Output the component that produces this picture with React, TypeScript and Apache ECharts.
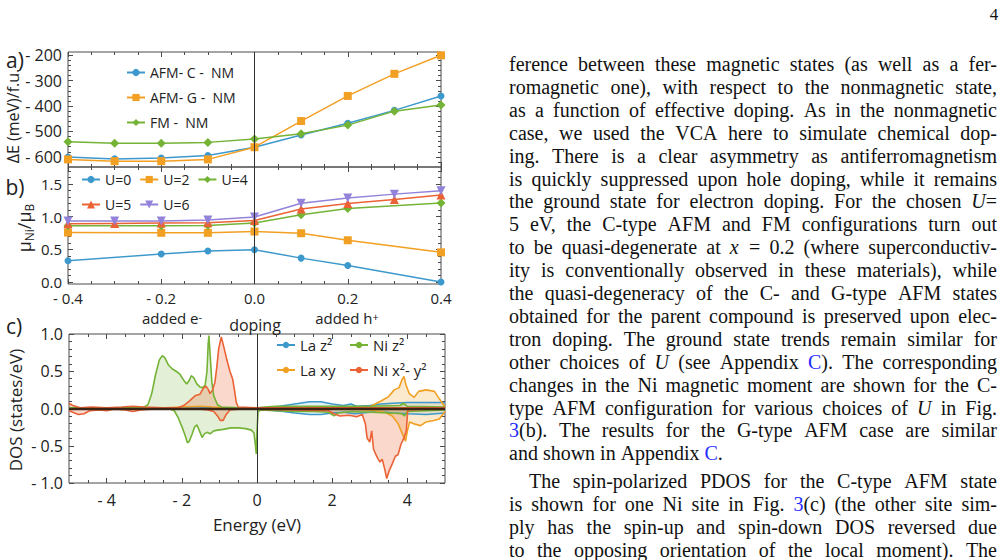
import React, { useEffect, useRef } from 'react';
import * as echarts from 'echarts';

const SANS = "'Open Sans', 'DejaVu Sans', sans-serif";
const SERIF = "'Liberation Serif', 'DejaVu Serif', serif";
const FRAME = '#4a4a4a';
const TXT = '#222';

const C_BLUE = '#3d99cc';
const C_ORANGE = '#f2a024';
const C_GREEN = '#74b336';
const C_RED = '#eb6235';
const C_PURPLE = '#9382d9';

// ---------- panel a: energy differences ----------
const dopingX = [-0.4, -0.3, -0.2, -0.1, 0, 0.1, 0.2, 0.3, 0.4];
const afmC = [-601, -608, -605, -595, -562, -514, -468, -417, -360];
const afmG = [-610, -617, -617, -610, -562, -459, -360, -273, -200];
const fmNM = [-541, -546, -546, -543, -530, -509, -475, -420, -396];
const aYTicks = [-600, -500, -400, -300, -200];
const aYMinor = [-620, -580, -560, -540, -520, -480, -460, -440, -420, -380, -360, -340, -320, -280, -260, -240, -220];

// ---------- panel b: Ni moment ----------
const sparseX = [-0.4, -0.2, -0.1, 0, 0.1, 0.2, 0.4];
const u0 = [0.325, 0.428, 0.474, 0.495, 0.366, 0.253, 0.0];
const u2 = [0.758, 0.753, 0.753, 0.773, 0.747, 0.639, 0.454];
const u4 = [0.861, 0.861, 0.866, 0.902, 1.031, 1.124, 1.211];
const u5 = [0.892, 0.897, 0.902, 0.907, 0.943, 1.119, 1.201, 1.263, 1.33];
const u6 = [0.933, 0.933, 0.933, 0.948, 0.995, 1.206, 1.284, 1.345, 1.397];
const bYTicks = [0, 0.5, 1.0, 1.5];
const bYMinor = [0.1, 0.2, 0.3, 0.4, 0.6, 0.7, 0.8, 0.9, 1.1, 1.2, 1.3, 1.4, 1.6, 1.7];

// ---------- panel c: PDOS ----------
const laZ2Up = [[-5, 0], [-1.5, 0.01], [-1.35, 0.02], [-1.2, 0.01], [0, 0], [0.3, 0.01], [0.6, 0.03], [1.0, 0.06], [1.4, 0.09], [1.7, 0.09], [2.0, 0.06], [2.3, 0.04], [2.5, 0.06], [2.65, 0.03], [3.0, 0.04], [3.3, 0.06], [3.6, 0.07], [4.0, 0.08], [4.5, 0.08], [5, 0.08]];
const laZ2Dn = [[-5, 0], [-1.3, -0.01], [0, 0], [0.3, -0.02], [0.7, -0.04], [1.0, -0.06], [1.4, -0.08], [1.7, -0.08], [2.0, -0.06], [2.3, -0.05], [2.6, -0.07], [3.0, -0.05], [3.3, -0.04], [3.6, -0.06], [4.0, -0.07], [4.5, -0.08], [5, -0.06]];
const laXyUp = [[-5, 0], [-2.5, 0.01], [-2.0, 0.02], [-1.5, 0.03], [-1.2, 0.02], [-0.5, 0], [0, 0], [2.5, 0.01], [3.0, 0.02], [3.1, 0.05], [3.3, 0.1], [3.5, 0.16], [3.65, 0.25], [3.78, 0.28], [3.85, 0.38], [3.91, 0.43], [3.96, 0.32], [4.05, 0.2], [4.18, 0.15], [4.3, 0.23], [4.5, 0.25], [4.72, 0.23], [4.85, 0.13], [5, 0.02]];
const laXyDn = [[-5, 0], [2.5, -0.01], [3.0, -0.02], [3.4, -0.05], [3.6, -0.1], [3.75, -0.2], [3.85, -0.32], [3.95, -0.44], [4.0, -0.3], [4.06, -0.18], [4.2, -0.21], [4.35, -0.23], [4.5, -0.18], [4.7, -0.16], [4.85, -0.14], [5, -0.04]];
const niZ2Up = [[-5, 0.01], [-4, 0.01], [-3.2, 0.01], [-3.0, 0.02], [-2.9, 0.05], [-2.8, 0.2], [-2.7, 0.45], [-2.6, 0.65], [-2.52, 0.71], [-2.45, 0.68], [-2.35, 0.58], [-2.25, 0.53], [-2.15, 0.5], [-2.05, 0.46], [-1.95, 0.38], [-1.87, 0.33], [-1.8, 0.38], [-1.75, 0.44], [-1.68, 0.41], [-1.6, 0.33], [-1.52, 0.29], [-1.45, 0.28], [-1.38, 0.31], [-1.33, 0.5], [-1.3, 0.85], [-1.28, 0.98], [-1.25, 0.75], [-1.2, 0.35], [-1.15, 0.17], [-1.05, 0.05], [-0.95, 0.02], [-0.5, 0.01], [0, 0.01], [0.2, 0.02], [0.5, 0.03], [1, 0.03], [2, 0.03], [3, 0.03], [3.8, 0.04], [3.9, 0.07], [4.0, 0.03], [5, 0.02]];
const niZ2Dn = [[-5, -0.01], [-2.3, -0.01], [-2.2, -0.03], [-2.1, -0.12], [-2.0, -0.24], [-1.92, -0.35], [-1.85, -0.46], [-1.8, -0.44], [-1.73, -0.35], [-1.66, -0.25], [-1.6, -0.22], [-1.53, -0.3], [-1.46, -0.39], [-1.4, -0.34], [-1.33, -0.32], [-1.25, -0.34], [-1.15, -0.3], [-1.05, -0.29], [-0.9, -0.28], [-0.7, -0.26], [-0.5, -0.26], [-0.3, -0.27], [-0.15, -0.29], [-0.08, -0.33], [-0.04, -0.5], [-0.02, -0.61], [0.0, -0.3], [0.03, -0.04], [0.1, -0.02], [0.5, -0.03], [1.0, -0.04], [1.5, -0.04], [1.9, -0.05], [2.05, -0.1], [2.15, -0.06], [2.5, -0.04], [3.0, -0.05], [3.5, -0.06], [3.85, -0.07], [3.92, -0.1], [4.0, -0.04], [5, -0.02]];
const niX2Up = [[-5, 0.07], [-4.9, 0.04], [-4.7, 0.01], [-4.4, 0.02], [-4.0, 0.01], [-3.6, 0.02], [-3.3, 0.03], [-3.0, 0.02], [-2.5, 0.01], [-2.1, 0.01], [-1.95, 0.04], [-1.8, 0.1], [-1.65, 0.17], [-1.52, 0.19], [-1.43, 0.27], [-1.36, 0.3], [-1.3, 0.26], [-1.25, 0.2], [-1.18, 0.25], [-1.12, 0.35], [-1.07, 0.55], [-1.02, 0.8], [-0.95, 0.96], [-0.88, 0.82], [-0.8, 0.65], [-0.72, 0.5], [-0.65, 0.4], [-0.6, 0.25], [-0.55, 0.08], [-0.5, 0.02], [0, 0.01], [1, 0.01], [2, 0.01], [3, 0.01], [4, 0.01], [5, 0.01]];
const niX2Dn = [[-5, -0.03], [-4.9, -0.05], [-4.75, -0.08], [-4.6, -0.07], [-4.45, -0.03], [-4.2, -0.02], [-4.0, -0.03], [-3.8, -0.01], [-3.5, -0.02], [-3.3, -0.04], [-3.1, -0.02], [-2.8, -0.01], [-1.5, -0.01], [-1.3, -0.02], [-1.15, -0.04], [-1.05, -0.1], [-0.98, -0.16], [-0.9, -0.16], [-0.82, -0.08], [-0.72, -0.02], [-0.5, -0.01], [0, -0.01], [1, -0.02], [1.9, -0.03], [2.05, -0.07], [2.2, -0.1], [2.45, -0.09], [2.65, -0.11], [2.8, -0.08], [2.88, -0.2], [2.93, -0.4], [3.0, -0.45], [3.05, -0.3], [3.1, -0.55], [3.2, -0.66], [3.27, -0.72], [3.33, -0.68], [3.4, -0.82], [3.45, -0.94], [3.52, -0.83], [3.6, -0.74], [3.68, -0.64], [3.75, -0.62], [3.83, -0.48], [3.92, -0.38], [3.97, -0.3], [4.01, -0.02], [4.5, -0.01], [5, -0.01]];
const cXTicks = [-4, -2, 0, 2, 4];
const cXMinor = [-4.5, -3.5, -3, -2.5, -1.5, -1, -0.5, 0.5, 1, 1.5, 2.5, 3, 3.5, 4.5];

// ---------- text column ----------
const paraLines = [
  'ference between these magnetic states (as well as a fer-',
  'romagnetic one), with respect to the nonmagnetic state,',
  'as a function of effective doping. As in the nonmagnetic',
  'case, we used the VCA here to simulate chemical dop-',
  'ing. There is a clear asymmetry as antiferromagnetism',
  'is quickly suppressed upon hole doping, while it remains',
  'the ground state for electron doping. For the chosen *U*=',
  '5 eV, the C-type AFM and FM configurations turn out',
  'to be quasi-degenerate at *x* = 0.2 (where superconductiv-',
  'ity is conventionally observed in these materials), while',
  'the quasi-degeneracy of the C- and G-type AFM states',
  'obtained for the parent compound is preserved upon elec-',
  'tron doping. The ground state trends remain similar for',
  'other choices of *U* (see Appendix [C]). The corresponding',
  'changes in the Ni magnetic moment are shown for the C-',
  'type AFM configuration for various choices of *U* in Fig.',
  '[3](b). The results for the G-type AFM case are similar',
  'and shown in Appendix [C].',
  'The spin-polarized PDOS for the C-type AFM state',
  'is shown for one Ni site in Fig. [3](c) (the other site sim-',
  'ply has the spin-up and spin-down DOS reversed due',
  'to the opposing orientation of the local moment). The',
];
const raggedLines = [17];
const indentLines = [18];

const zip = (xs: number[], ys: number[]) => xs.map((x, i) => [x, ys[i]]);
const fmt = (v: number, d: number) => (v < 0 ? '- ' : '') + Math.abs(v).toFixed(d);

function buildParagraph(): any[] {
  const ctx = document.createElement('canvas').getContext('2d') as CanvasRenderingContext2D;
  const meas = (s: string, fs: number) => {
    ctx.font = `${fs}px ${SERIF}`;
    return ctx.measureText(s).width;
  };
  const strip = (w: string) => w.replace(/\*/g, '').replace(/\[|\]/g, '');
  const L = 509;
  const R = 997;
  const IND = 20;
  let ratio = Infinity;
  paraLines.forEach((ln, i) => {
    if (raggedLines.includes(i)) return;
    const avail = R - L - (indentLines.includes(i) ? IND : 0);
    ratio = Math.min(ratio, avail / meas(strip(ln), 100));
  });
  const fs = Math.max(13, Math.min(20, 100 * ratio * 0.995));
  const sp = meas(' ', fs);
  const out: any[] = [];
  paraLines.forEach((ln, k) => {
    const y = (k <= 17 ? 295 + 22.9 * (k - 10) : 483 + 23 * (k - 18)) - 2;
    const words = ln.split(' ');
    const ws = words.map((w) => meas(strip(w), fs));
    const x0 = L + (indentLines.includes(k) ? IND : 0);
    const tot = ws.reduce((a, b) => a + b, 0);
    const gap = raggedLines.includes(k) || words.length < 2 ? sp : (R - x0 - tot) / (words.length - 1);
    let x = x0;
    words.forEach((w, j) => {
      const rich = w.replace(/\*([^*]+)\*/g, '{i|$1}').replace(/\[([^\]]+)\]/g, '{b|$1}');
      out.push({
        type: 'text',
        x,
        y,
        silent: true,
        style: {
          text: rich,
          fontFamily: SERIF,
          fontSize: fs,
          fill: '#111',
          align: 'left',
          verticalAlign: 'middle',
          rich: {
            i: { fontFamily: SERIF, fontSize: fs, fontStyle: 'italic', fill: '#111' },
            b: { fontFamily: SERIF, fontSize: fs, fill: '#1f2bff' },
          },
        },
      });
      x += ws[j] + gap;
    });
  });
  return out;
}

function axis(gridIndex: number, position: string, min: number, max: number, o: any = {}) {
  const a: any = {
    type: 'value',
    gridIndex,
    position,
    min,
    max,
    axisLine: { show: false, onZero: false },
    splitLine: { show: false },
    axisTick: { show: true, inside: true, length: o.len ?? 5, lineStyle: { color: FRAME, width: 1 } },
    axisLabel: {
      show: !!o.label,
      color: TXT,
      fontSize: o.fs ?? 16,
      lineHeight: o.fs ?? 16,
      fontFamily: SANS,
      margin: o.margin ?? 6,
      formatter: o.fmt,
    },
  };
  if (o.interval != null) a.interval = o.interval;
  if (o.ticks) {
    a.axisTick.customValues = o.ticks;
    a.axisLabel.customValues = o.ticks;
  }
  if (o.minor) a.minorTick = { show: true, splitNumber: o.minor, length: 3, lineStyle: { color: FRAME, width: 1 } };
  return a;
}

function lineSeries(name: string, xi: number, yi: number, data: any[], color: string, symbol: string, size: number, extra: any = {}) {
  return {
    type: 'line',
    name,
    xAxisIndex: xi,
    yAxisIndex: yi,
    data,
    symbol,
    symbolSize: size,
    color,
    lineStyle: { color, width: 1.5 },
    itemStyle: { color },
    ...extra,
  };
}

function dos(name: string, data: any[], color: string, op: number, extra: any = {}) {
  return {
    type: 'line',
    name,
    xAxisIndex: 4,
    yAxisIndex: 8,
    data,
    symbol: 'none',
    color,
    lineStyle: { color, width: 1.6 },
    itemStyle: { color },
    areaStyle: { color, opacity: op },
    ...extra,
  };
}

const vLine = (x: number) => ({
  silent: true,
  symbol: 'none',
  label: { show: false },
  lineStyle: { color: '#333', width: 1, type: 'solid' },
  data: [{ xAxis: x }],
});

function buildOption(): any {
  const legendText = { fontFamily: SANS, fontSize: 14, color: TXT, lineHeight: 15 };
  const aMin = -640, aMax = -187;
  const bMin = -0.03, bMax = 1.76;
  const supText = (text: string, x: number, y: number) => ({
    type: 'text', x, y, silent: true,
    style: {
      text, fontFamily: SANS, fontSize: 15, lineHeight: 15, fill: TXT, align: 'center', verticalAlign: 'middle',
      rich: { p: { fontFamily: SANS, fontSize: 11, lineHeight: 15, verticalAlign: 'top', fill: TXT } },
    },
  });
  return {
    animation: false,
    backgroundColor: '#ffffff',
    textStyle: { fontFamily: SANS },
    grid: [
      { left: 68, top: 52, width: 373, height: 115, show: true, borderColor: FRAME, borderWidth: 1 },
      { left: 68, top: 167, width: 373, height: 117, show: true, borderColor: FRAME, borderWidth: 1 },
      { left: 69, top: 334, width: 376, height: 149, show: true, borderColor: FRAME, borderWidth: 1 },
    ],
    xAxis: [
      axis(0, 'bottom', -0.4, 0.4, { interval: 0.2, minor: 4 }),
      axis(0, 'top', -0.4, 0.4, { interval: 0.2, minor: 4 }),
      axis(1, 'bottom', -0.4, 0.4, { interval: 0.2, minor: 4, label: true, fs: 15, margin: 6, fmt: (v: number) => fmt(v, 1) }),
      axis(1, 'top', -0.4, 0.4, { interval: 0.2, minor: 4 }),
      axis(2, 'bottom', -5, 5, { ticks: cXTicks, label: true, margin: 9, fmt: (v: number) => fmt(v, 0) }),
      axis(2, 'bottom', -5, 5, { ticks: cXMinor, len: 3 }),
      axis(2, 'top', -5, 5, { ticks: cXTicks }),
      axis(2, 'top', -5, 5, { ticks: cXMinor, len: 3 }),
    ],
    yAxis: [
      axis(0, 'left', aMin, aMax, { ticks: aYTicks, label: true, fmt: (v: number) => fmt(v, 0) }),
      axis(0, 'left', aMin, aMax, { ticks: aYMinor, len: 3 }),
      axis(0, 'right', aMin, aMax, { ticks: aYTicks }),
      axis(0, 'right', aMin, aMax, { ticks: aYMinor, len: 3 }),
      axis(1, 'left', bMin, bMax, { ticks: bYTicks, label: true, fs: 15, fmt: (v: number) => fmt(v, 1) }),
      axis(1, 'left', bMin, bMax, { ticks: bYMinor, len: 3 }),
      axis(1, 'right', bMin, bMax, { ticks: bYTicks }),
      axis(1, 'right', bMin, bMax, { ticks: bYMinor, len: 3 }),
      axis(2, 'left', -1, 1, { interval: 0.5, minor: 5, label: true, fmt: (v: number) => fmt(v, 1) }),
      axis(2, 'right', -1, 1, { interval: 0.5, minor: 5 }),
    ],
    legend: [
      { data: ['AFM- C -  NM', 'AFM- G -  NM', 'FM -  NM'], left: 126, top: 65, orient: 'vertical', itemGap: 10, itemWidth: 18, itemHeight: 9, padding: 0, textStyle: legendText, selectedMode: false },
      { data: ['U=0', 'U=2', 'U=4'], left: 81, top: 172, orient: 'horizontal', itemGap: 8, itemWidth: 18, itemHeight: 9, padding: 0, textStyle: legendText, selectedMode: false },
      { data: ['U=5', 'U=6'], left: 81, top: 197, orient: 'horizontal', itemGap: 8, itemWidth: 18, itemHeight: 10, padding: 0, textStyle: legendText, selectedMode: false },
      { data: ['La z²', 'La xy'], left: 276, top: 337, orient: 'vertical', itemGap: 9, itemWidth: 18, itemHeight: 8, padding: 0, textStyle: { ...legendText, fontSize: 15, lineHeight: 16 }, selectedMode: false },
      { data: ['Ni z²', 'Ni x²- y²'], left: 349, top: 337, orient: 'vertical', itemGap: 9, itemWidth: 18, itemHeight: 8, padding: 0, textStyle: { ...legendText, fontSize: 15, lineHeight: 16 }, selectedMode: false },
    ],
    series: [
      lineSeries('AFM- C -  NM', 0, 0, zip(dopingX, afmC), C_BLUE, 'circle', 7, { markLine: vLine(0) }),
      lineSeries('AFM- G -  NM', 0, 0, zip(dopingX, afmG), C_ORANGE, 'rect', 8),
      lineSeries('FM -  NM', 0, 0, zip(dopingX, fmNM), C_GREEN, 'diamond', 9),
      lineSeries('U=0', 2, 4, zip(sparseX, u0), C_BLUE, 'circle', 7, { markLine: vLine(0) }),
      lineSeries('U=2', 2, 4, zip(sparseX, u2), C_ORANGE, 'rect', 8),
      lineSeries('U=4', 2, 4, zip(sparseX, u4), C_GREEN, 'diamond', 9),
      lineSeries('U=5', 2, 4, zip(dopingX, u5), C_RED, 'triangle', 9),
      lineSeries('U=6', 2, 4, zip(dopingX, u6), C_PURPLE, 'triangle', 9, { symbolRotate: 180 }),
      dos('La z²', laZ2Up, C_BLUE, 0.15),
      dos('La z²', laZ2Dn, C_BLUE, 0.15),
      dos('La xy', laXyUp, C_ORANGE, 0.22),
      dos('La xy', laXyDn, C_ORANGE, 0.22),
      dos('Ni z²', niZ2Up, C_GREEN, 0.2),
      dos('Ni z²', niZ2Dn, C_GREEN, 0.2),
      dos('Ni x²- y²', niX2Up, C_RED, 0.25),
      dos('Ni x²- y²', niX2Dn, C_RED, 0.25, {
        markLine: {
          silent: true,
          symbol: 'none',
          label: { show: false },
          data: [
            { xAxis: 0, lineStyle: { color: '#333', width: 1, type: 'solid' } },
            { yAxis: 0, lineStyle: { color: '#3a2415', width: 2.4, type: 'solid' } },
          ],
        },
      }),
    ],
    graphic: [
      { type: 'text', x: 994, y: 14, silent: true, style: { text: '4', fontFamily: SERIF, fontSize: 17, fill: '#111', align: 'center', verticalAlign: 'middle' } },
      { type: 'text', x: 15, y: 60, silent: true, style: { text: 'a)', fontFamily: SANS, fontSize: 21, fill: TXT, align: 'center', verticalAlign: 'middle' } },
      { type: 'text', x: 15, y: 187, silent: true, style: { text: 'b)', fontFamily: SANS, fontSize: 21, fill: TXT, align: 'center', verticalAlign: 'middle' } },
      { type: 'text', x: 14, y: 326, silent: true, style: { text: 'c)', fontFamily: SANS, fontSize: 21, fill: TXT, align: 'center', verticalAlign: 'middle' } },
      { type: 'text', x: 13, y: 116, rotation: Math.PI / 2, silent: true, style: { text: 'ΔE (meV)/f.u.', fontFamily: SANS, fontSize: 16, fill: TXT, align: 'center', verticalAlign: 'middle' } },
      {
        type: 'text', x: 24, y: 228, rotation: Math.PI / 2, silent: true,
        style: {
          text: 'μ{s|Ni}/μ{s|B}', fontFamily: SANS, fontSize: 18, lineHeight: 22, fill: TXT, align: 'center', verticalAlign: 'middle',
          rich: { s: { fontFamily: SANS, fontSize: 12, lineHeight: 22, verticalAlign: 'bottom', fill: TXT } },
        },
      },
      { type: 'text', x: 15, y: 410, rotation: Math.PI / 2, silent: true, style: { text: 'DOS (states/eV)', fontFamily: SANS, fontSize: 17, fill: TXT, align: 'center', verticalAlign: 'middle' } },
      { type: 'text', x: 257, y: 524, silent: true, style: { text: 'Energy (eV)', fontFamily: SANS, fontSize: 17, fill: TXT, align: 'center', verticalAlign: 'middle' } },
      supText('added e{p|-}', 172, 318),
      { type: 'text', x: 255, y: 325, silent: true, style: { text: 'doping', fontFamily: SANS, fontSize: 16, lineHeight: 16, fill: TXT, align: 'center', verticalAlign: 'middle' } },
      supText('added h{p|+}', 347, 318),
      ...buildParagraph(),
    ],
  };
}

export default function App() {
  const ref = useRef<HTMLDivElement>(null);
  useEffect(() => {
    if (!ref.current) return;
    const chart = echarts.init(ref.current, null, { renderer: 'svg' });
    chart.setOption(buildOption());
    return () => chart.dispose();
  }, []);
  return <div ref={ref} style={{ position: 'absolute', left: 0, top: 0, width: 1005, height: 560, background: '#fff' }} />;
}
